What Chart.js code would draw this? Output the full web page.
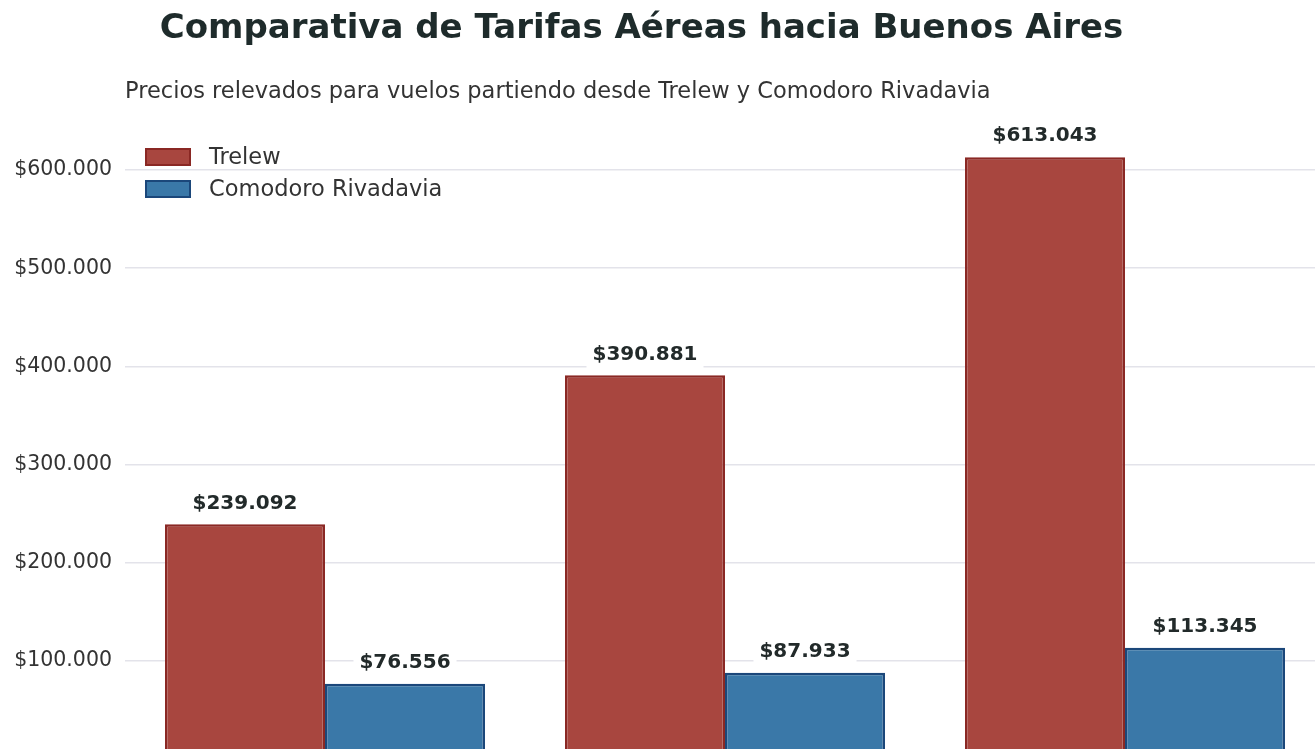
<!DOCTYPE html>
<html>
<head>
<meta charset="utf-8">
<script src="https://cdn.jsdelivr.net/npm/chart.js@4.4.0/dist/chart.umd.min.js"></script>
<style>
  html, body { margin: 0; padding: 0; background: #ffffff; overflow: hidden; }
  #wrap { position: relative; width: 1315px; height: 749px; overflow: hidden; }
  #title {
    position: absolute; left: 0; width: 1283px; top: 6px; text-align: center;
    font-family: "DejaVu Sans", sans-serif; font-weight: bold; font-size: 34px; color: #1e2b2b;
  }
  #subtitle {
    position: absolute; left: 125px; top: 77px;
    font-family: "DejaVu Sans", sans-serif; font-size: 22.5px; color: #333333;
  }
  #holder { position: absolute; left: 0; top: 0; width: 1340px; height: 790px; }
</style>
</head>
<body>
<div id="wrap">
  <div id="holder"><canvas id="chart"></canvas></div>
  <div id="title">Comparativa de Tarifas Aéreas hacia Buenos Aires</div>
  <div id="subtitle">Precios relevados para vuelos partiendo desde Trelew y Comodoro Rivadavia</div>
</div>
<script>
var categories = ['Opción 1', 'Opción 2', 'Opción 3'];
var seriesNames = ['Trelew', 'Comodoro Rivadavia'];
var trelewValues = [239092, 390881, 613043];
var comodoroValues = [76556, 87933, 113345];
var yTicks = [100000, 200000, 300000, 400000, 500000, 600000];

function formatPeso(value) {
  return '$' + value.toString().replace(/\B(?=(\d{3})+(?!\d))/g, '.');
}

// labels above each bar, on a white box so the grid breaks behind them
var barLabels = {
  id: 'barLabels',
  afterDatasetsDraw: function(chart) {
    var ctx = chart.ctx;
    ctx.save();
    ctx.font = 'bold 20px "DejaVu Sans"';
    ctx.textAlign = 'center';
    ctx.textBaseline = 'bottom';
    chart.data.datasets.forEach(function(ds, i) {
      var meta = chart.getDatasetMeta(i);
      meta.data.forEach(function(bar, j) {
        var text = formatPeso(ds.data[j]);
        var w = ctx.measureText(text).width;
        var y = bar.y - 11;
        ctx.fillStyle = '#ffffff';
        ctx.fillRect(bar.x - w / 2 - 6, y - 23, w + 12, 27);
        ctx.fillStyle = '#222a2a';
        ctx.fillText(text, bar.x, y);
      });
    });
    ctx.restore();
  }
};

// legend drawn inside the plot, top left
var innerLegend = {
  id: 'innerLegend',
  afterDraw: function(chart) {
    var ctx = chart.ctx;
    var area = chart.chartArea;
    ctx.save();
    ctx.font = '22.5px "DejaVu Sans"';
    ctx.textBaseline = 'middle';
    chart.data.datasets.forEach(function(ds, i) {
      var cy = area.top + 36 + i * 32;
      var x = area.left + 21;
      ctx.fillStyle = ds.backgroundColor;
      ctx.fillRect(x, cy - 8, 44, 16);
      ctx.strokeStyle = ds.borderColor;
      ctx.lineWidth = 2;
      ctx.strokeRect(x, cy - 8, 44, 16);
      ctx.fillStyle = '#333333';
      ctx.fillText(ds.label, x + 63, cy + 1);
    });
    ctx.restore();
  }
};

var chartElement = document.getElementById('chart');

new Chart(chartElement, {
  type: 'bar',
  data: {
    labels: categories,
    datasets: [{
      label: seriesNames[0],
      data: trelewValues,
      backgroundColor: '#a8463f',
      borderColor: '#8a2824',
      borderWidth: 2.5,
      borderSkipped: false
    }, {
      label: seriesNames[1],
      data: comodoroValues,
      backgroundColor: '#3a78a8',
      borderColor: '#1b477a',
      borderWidth: 2.5,
      borderSkipped: false
    }]
  },
  options: {
    responsive: true,
    maintainAspectRatio: false,
    animation: false,
    layout: { padding: { top: 121, right: 15, bottom: 31, left: 0 } },
    datasets: { bar: { categoryPercentage: 0.8, barPercentage: 1.0 } },
    plugins: {
      title: { display: false },
      tooltip: { enabled: false },
      legend: { display: false }
    },
    scales: {
      x: {
        ticks: { display: false },
        grid: { display: false },
        border: { display: false },
        afterFit: function(scale) { scale.height = 0; }
      },
      y: {
        min: 0,
        max: 650000,
        afterBuildTicks: function(scale) {
          scale.ticks = yTicks.map(function(v) { return { value: v }; });
        },
        afterFit: function(scale) { scale.width = 125; },
        ticks: {
          padding: 13,
          color: '#333333',
          font: { family: 'DejaVu Sans', size: 20.5 },
          callback: function(value) { return formatPeso(value); }
        },
        grid: { color: '#e3e3ea', lineWidth: 1.5, drawTicks: false },
        border: { display: false }
      }
    }
  },
  plugins: [barLabels, innerLegend]
});
</script>
</body>
</html>
